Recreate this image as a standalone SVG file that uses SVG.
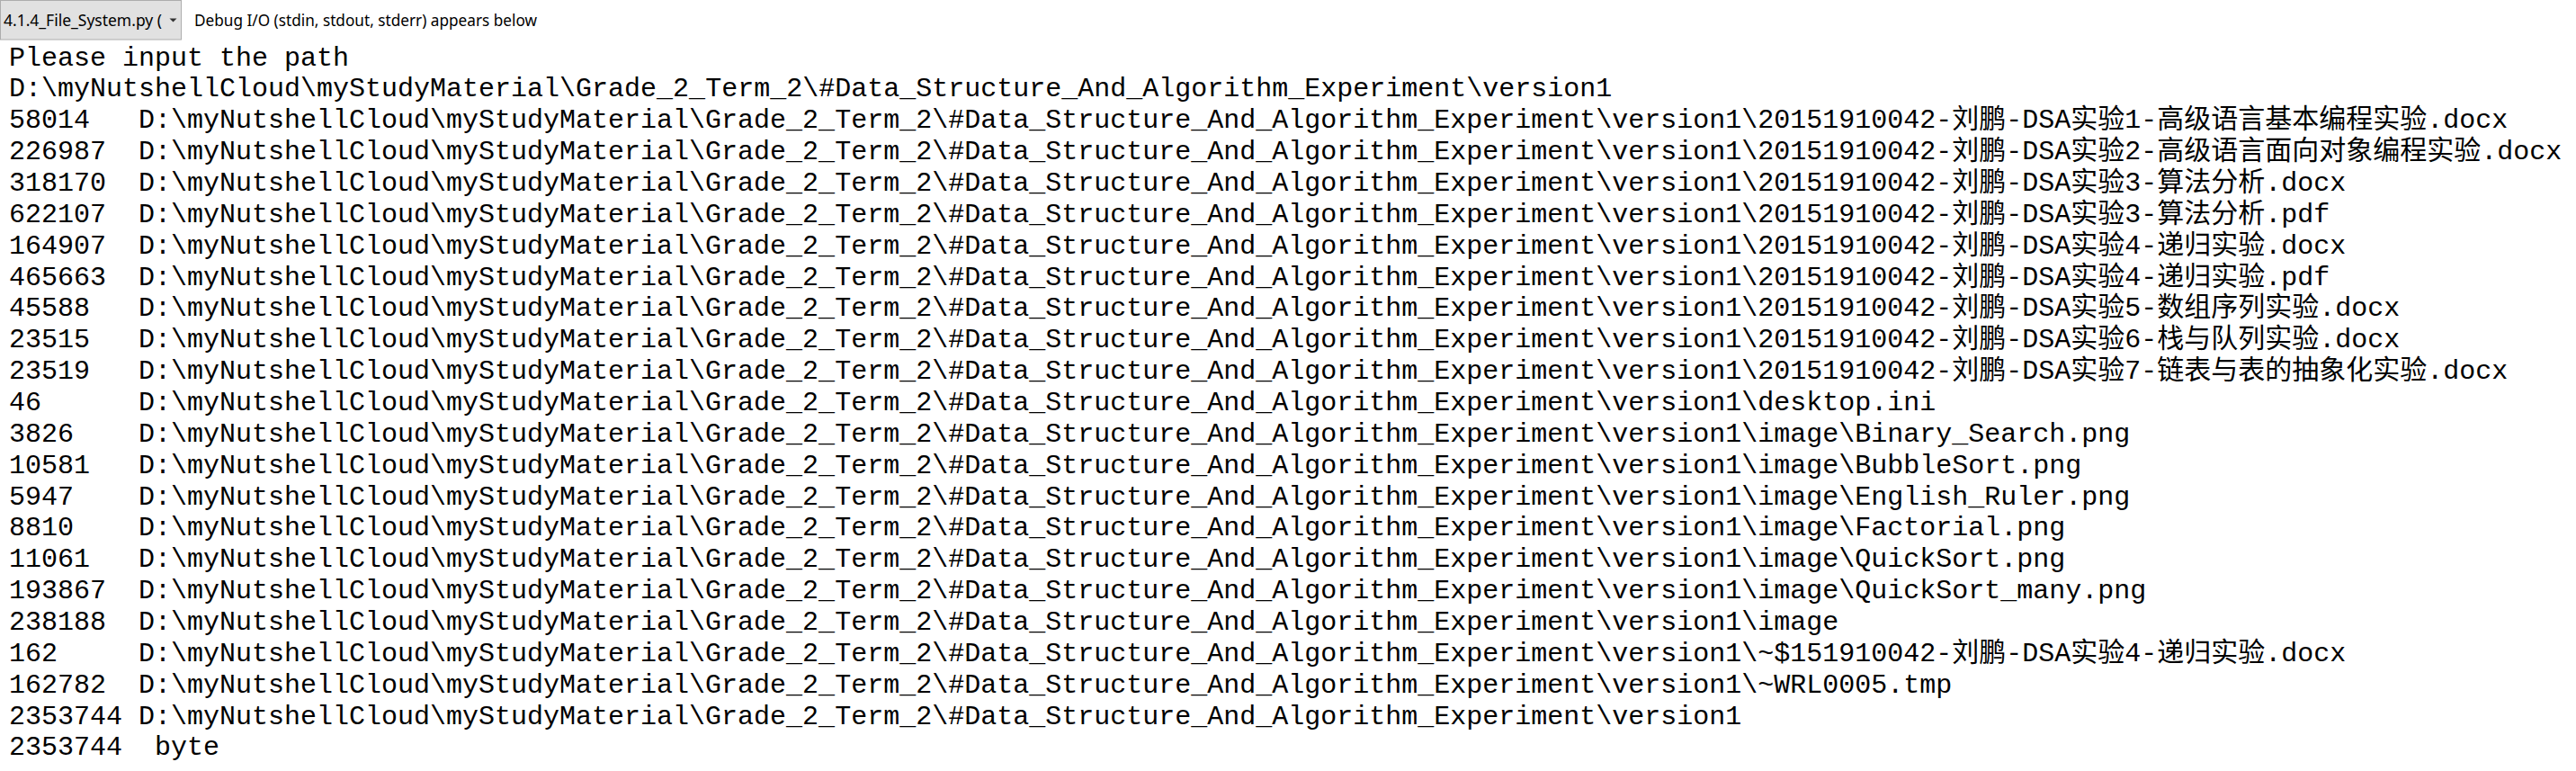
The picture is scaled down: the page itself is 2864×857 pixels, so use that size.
<svg xmlns="http://www.w3.org/2000/svg" width="2864" height="857" viewBox="0 0 2864 857">
<style>
.t{font-family:"Liberation Mono","Noto Sans CJK SC",monospace;font-size:30px;fill:#000}
.ui{font-family:"Noto Sans","Open Sans",sans-serif;font-size:17.5px;fill:#000}
</style>
<rect x="0" y="0" width="2864" height="857" fill="#ffffff"/>
<g id="toolbar">
<rect x="0.5" y="0.5" width="201" height="43.5" fill="#e1e1e1" stroke="#adadad" stroke-width="1"/>
<text class="ui" x="4" y="29" textLength="176" lengthAdjust="spacingAndGlyphs">4.1.4_File_System.py (</text>
<path d="M188.5,20.5 L196.5,20.5 L192.5,24.5 Z" fill="#333"/>
<text class="ui" x="216" y="29" textLength="381" lengthAdjust="spacingAndGlyphs">Debug I/O (stdin, stdout, stderr) appears below</text>
</g>
<g id="output">
<text class="t" x="10" y="72.5">Please input the path</text>
<text class="t" x="10" y="107.4">D:\myNutshellCloud\myStudyMaterial\Grade_2_Term_2\#Data_Structure_And_Algorithm_Experiment\version1</text>
<text class="t" x="10" y="142.2">58014</text><text class="t" x="154" y="142.2">D:\myNutshellCloud\myStudyMaterial\Grade_2_Term_2\#Data_Structure_And_Algorithm_Experiment\version1\20151910042-刘鹏-DSA实验1-高级语言基本编程实验.docx</text>
<text class="t" x="10" y="177.1">226987</text><text class="t" x="154" y="177.1">D:\myNutshellCloud\myStudyMaterial\Grade_2_Term_2\#Data_Structure_And_Algorithm_Experiment\version1\20151910042-刘鹏-DSA实验2-高级语言面向对象编程实验.docx</text>
<text class="t" x="10" y="211.9">318170</text><text class="t" x="154" y="211.9">D:\myNutshellCloud\myStudyMaterial\Grade_2_Term_2\#Data_Structure_And_Algorithm_Experiment\version1\20151910042-刘鹏-DSA实验3-算法分析.docx</text>
<text class="t" x="10" y="246.8">622107</text><text class="t" x="154" y="246.8">D:\myNutshellCloud\myStudyMaterial\Grade_2_Term_2\#Data_Structure_And_Algorithm_Experiment\version1\20151910042-刘鹏-DSA实验3-算法分析.pdf</text>
<text class="t" x="10" y="281.7">164907</text><text class="t" x="154" y="281.7">D:\myNutshellCloud\myStudyMaterial\Grade_2_Term_2\#Data_Structure_And_Algorithm_Experiment\version1\20151910042-刘鹏-DSA实验4-递归实验.docx</text>
<text class="t" x="10" y="316.5">465663</text><text class="t" x="154" y="316.5">D:\myNutshellCloud\myStudyMaterial\Grade_2_Term_2\#Data_Structure_And_Algorithm_Experiment\version1\20151910042-刘鹏-DSA实验4-递归实验.pdf</text>
<text class="t" x="10" y="351.4">45588</text><text class="t" x="154" y="351.4">D:\myNutshellCloud\myStudyMaterial\Grade_2_Term_2\#Data_Structure_And_Algorithm_Experiment\version1\20151910042-刘鹏-DSA实验5-数组序列实验.docx</text>
<text class="t" x="10" y="386.2">23515</text><text class="t" x="154" y="386.2">D:\myNutshellCloud\myStudyMaterial\Grade_2_Term_2\#Data_Structure_And_Algorithm_Experiment\version1\20151910042-刘鹏-DSA实验6-栈与队列实验.docx</text>
<text class="t" x="10" y="421.1">23519</text><text class="t" x="154" y="421.1">D:\myNutshellCloud\myStudyMaterial\Grade_2_Term_2\#Data_Structure_And_Algorithm_Experiment\version1\20151910042-刘鹏-DSA实验7-链表与表的抽象化实验.docx</text>
<text class="t" x="10" y="456">46</text><text class="t" x="154" y="456">D:\myNutshellCloud\myStudyMaterial\Grade_2_Term_2\#Data_Structure_And_Algorithm_Experiment\version1\desktop.ini</text>
<text class="t" x="10" y="490.8">3826</text><text class="t" x="154" y="490.8">D:\myNutshellCloud\myStudyMaterial\Grade_2_Term_2\#Data_Structure_And_Algorithm_Experiment\version1\image\Binary_Search.png</text>
<text class="t" x="10" y="525.7">10581</text><text class="t" x="154" y="525.7">D:\myNutshellCloud\myStudyMaterial\Grade_2_Term_2\#Data_Structure_And_Algorithm_Experiment\version1\image\BubbleSort.png</text>
<text class="t" x="10" y="560.5">5947</text><text class="t" x="154" y="560.5">D:\myNutshellCloud\myStudyMaterial\Grade_2_Term_2\#Data_Structure_And_Algorithm_Experiment\version1\image\English_Ruler.png</text>
<text class="t" x="10" y="595.4">8810</text><text class="t" x="154" y="595.4">D:\myNutshellCloud\myStudyMaterial\Grade_2_Term_2\#Data_Structure_And_Algorithm_Experiment\version1\image\Factorial.png</text>
<text class="t" x="10" y="630.3">11061</text><text class="t" x="154" y="630.3">D:\myNutshellCloud\myStudyMaterial\Grade_2_Term_2\#Data_Structure_And_Algorithm_Experiment\version1\image\QuickSort.png</text>
<text class="t" x="10" y="665.1">193867</text><text class="t" x="154" y="665.1">D:\myNutshellCloud\myStudyMaterial\Grade_2_Term_2\#Data_Structure_And_Algorithm_Experiment\version1\image\QuickSort_many.png</text>
<text class="t" x="10" y="700">238188</text><text class="t" x="154" y="700">D:\myNutshellCloud\myStudyMaterial\Grade_2_Term_2\#Data_Structure_And_Algorithm_Experiment\version1\image</text>
<text class="t" x="10" y="734.8">162</text><text class="t" x="154" y="734.8">D:\myNutshellCloud\myStudyMaterial\Grade_2_Term_2\#Data_Structure_And_Algorithm_Experiment\version1\~$151910042-刘鹏-DSA实验4-递归实验.docx</text>
<text class="t" x="10" y="769.7">162782</text><text class="t" x="154" y="769.7">D:\myNutshellCloud\myStudyMaterial\Grade_2_Term_2\#Data_Structure_And_Algorithm_Experiment\version1\~WRL0005.tmp</text>
<text class="t" x="10" y="804.6">2353744</text><text class="t" x="154" y="804.6">D:\myNutshellCloud\myStudyMaterial\Grade_2_Term_2\#Data_Structure_And_Algorithm_Experiment\version1</text>
<text class="t" x="10" y="839.4">2353744</text><text class="t" x="172" y="839.4">byte</text>
</g>
</svg>
